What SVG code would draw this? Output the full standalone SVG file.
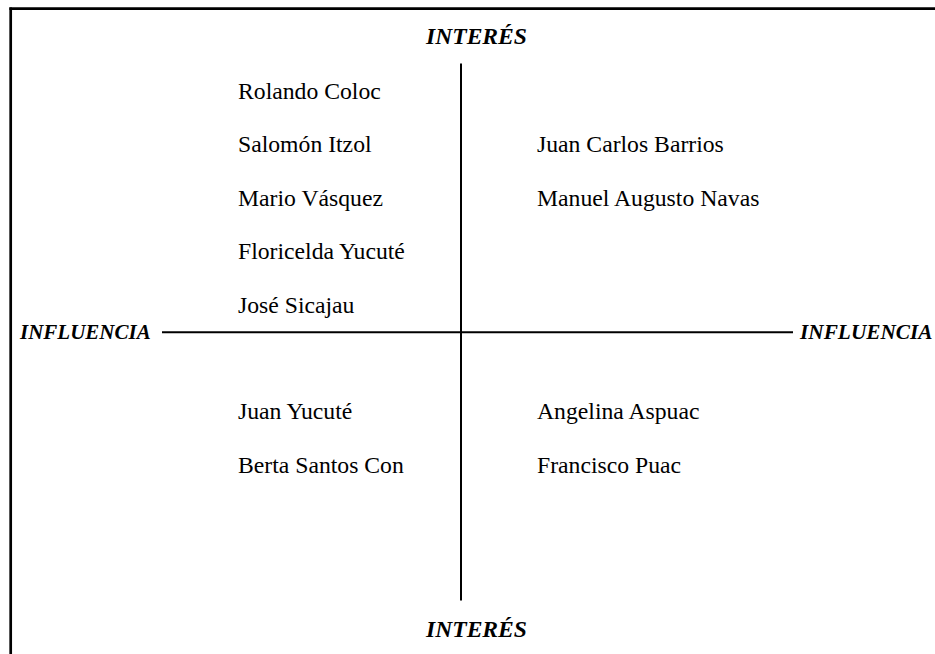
<svg xmlns="http://www.w3.org/2000/svg" width="935" height="654" viewBox="0 0 935 654">
  <style>
    .name { font-family: "Liberation Serif", "Times New Roman", serif; font-size: 23.7px; fill: #000; }
    .axis { font-family: "Liberation Serif", "Times New Roman", serif; font-weight: bold; font-style: italic; fill: #000; }
    .frame { stroke: #000; stroke-width: 2.7; fill: none; }
    .ax { stroke: #000; stroke-width: 2; fill: none; }
  </style>
  <rect width="935" height="654" fill="#fff"/>
  <g id="frame">
    <line class="frame" x1="9.4" y1="8.7" x2="935" y2="8.7"/>
    <line class="frame" x1="10.7" y1="7.4" x2="10.7" y2="654"/>
  </g>
  <g id="connectors">
    <line class="ax" x1="162" y1="332.3" x2="793" y2="332.3"/>
    <line class="ax" x1="461" y1="63.5" x2="461" y2="600.5"/>
  </g>
  <g id="axis-labels">
    <text id="interes-top" class="axis" x="426" y="44" font-size="23.6">INTERÉS</text>
    <text id="interes-bottom" class="axis" x="426" y="637" font-size="23.6">INTERÉS</text>
    <text id="influencia-left" class="axis" x="20" y="339" font-size="21">INFLUENCIA</text>
    <text id="influencia-right" class="axis" x="800" y="339" font-size="21.3">INFLUENCIA</text>
  </g>
  <g id="q-top-left">
    <text class="name" x="238" y="98.5">Rolando Coloc</text>
    <text class="name" x="238" y="152">Salomón Itzol</text>
    <text class="name" x="238" y="205.5">Mario Vásquez</text>
    <text class="name" x="238" y="259">Floricelda Yucuté</text>
    <text class="name" x="238" y="312.5">José Sicajau</text>
  </g>
  <g id="q-top-right">
    <text class="name" x="537" y="152">Juan Carlos Barrios</text>
    <text class="name" x="537" y="205.5">Manuel Augusto Navas</text>
  </g>
  <g id="q-bottom-left">
    <text class="name" x="238" y="419">Juan Yucuté</text>
    <text class="name" x="238" y="472.5">Berta Santos Con</text>
  </g>
  <g id="q-bottom-right">
    <text class="name" x="537" y="419">Angelina Aspuac</text>
    <text class="name" x="537" y="472.5">Francisco Puac</text>
  </g>
</svg>
